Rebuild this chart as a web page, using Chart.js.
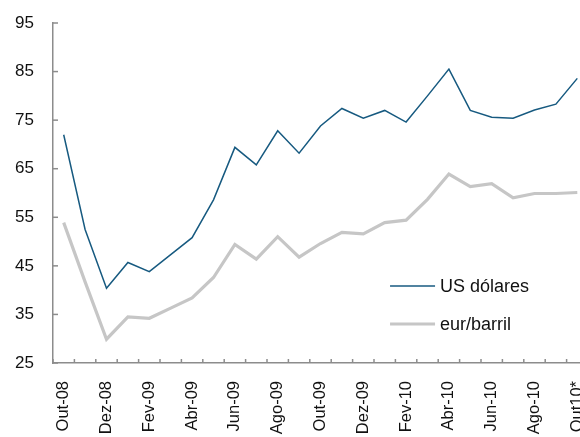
<!DOCTYPE html>
<html>
<head>
<meta charset="utf-8">
<script src="https://cdn.jsdelivr.net/npm/chart.js@4"></script>
<style>
  html, body { margin: 0; padding: 0; background: #fff; overflow: hidden; }
  #wrap { width: 580px; height: 437px; overflow: hidden; position: relative; }
</style>
</head>
<body>
<div id="wrap"><canvas id="grafico" width="588" height="437"></canvas></div>
<script>
// Preço do petróleo: US dólares vs eur/barril (mensal)
const meses = [
  'Out-08', 'Nov-08', 'Dez-08', 'Jan-09', 'Fev-09', 'Mar-09', 'Abr-09', 'Mai-09',
  'Jun-09', 'Jul-09', 'Ago-09', 'Set-09', 'Out-09', 'Nov-09', 'Dez-09', 'Jan-10',
  'Fev-10', 'Mar-10', 'Abr-10', 'Mai-10', 'Jun-10', 'Jul-10', 'Ago-10', 'Set-10', 'Out10*'
];
const usDolares = [
  72.0, 52.5, 40.4, 45.7, 43.8, 47.3, 50.8, 58.6, 69.4, 65.8, 72.8, 68.2, 73.8,
  77.4, 75.4, 77.0, 74.6, 80.0, 85.5, 77.0, 75.6, 75.4, 77.1, 78.3, 83.6
];
const eurBarril = [
  53.9, 41.7, 29.9, 34.5, 34.2, 36.3, 38.4, 42.6, 49.4, 46.4, 51.0, 46.8, 49.6,
  51.9, 51.6, 53.9, 54.4, 58.7, 63.9, 61.3, 61.9, 59.0, 59.9, 59.9, 60.1
];
const nomesSeries = ['US dólares', 'eur/barril'];
const yMin = 25, yMax = 95, yPasso = 10;

const corEixo = '#8c8c8c';
const fonte = 'Liberation Sans, Arial, sans-serif';

// tracinhos virados para dentro + legenda dentro da área do gráfico
const extras = {
  id: 'extras',
  afterDraw(chart) {
    const c = chart.ctx;
    const x = chart.scales.x, y = chart.scales.y;
    c.save();
    c.strokeStyle = corEixo;
    c.lineWidth = 1.5;
    // eixo y
    y.ticks.forEach(t => {
      const py = y.getPixelForValue(t.value);
      c.beginPath(); c.moveTo(x.left, py); c.lineTo(x.left + 5, py); c.stroke();
    });
    // eixo x (entre categorias)
    const passo = x.getPixelForValue(1) - x.getPixelForValue(0);
    for (let i = 0; i <= meses.length; i++) {
      const px = x.getPixelForValue(0) - passo / 2 + i * passo;
      c.beginPath(); c.moveTo(px, y.bottom); c.lineTo(px, y.bottom - 4); c.stroke();
    }
    // legenda
    const lx = x.getPixelForValue(15.25), ly = y.getPixelForValue(40.85);
    c.font = '18px ' + fonte;
    c.textBaseline = 'middle';
    chart.data.datasets.forEach((ds, i) => {
      const yy = ly + i * 38;
      c.strokeStyle = ds.borderColor;
      c.lineWidth = ds.borderWidth;
      c.beginPath(); c.moveTo(lx, yy); c.lineTo(lx + 45, yy); c.stroke();
      c.fillStyle = '#111';
      c.fillText(ds.label, lx + 50, yy + 1);
    });
    c.restore();
  }
};

new Chart(document.getElementById('grafico'), {
  type: 'line',
  data: {
    labels: meses,
    datasets: [
      {
        label: nomesSeries[0],
        data: usDolares,
        borderColor: '#175a80',
        borderWidth: 1.5,
        pointRadius: 0,
        tension: 0
      },
      {
        label: nomesSeries[1],
        data: eurBarril,
        borderColor: '#c6c6c6',
        borderWidth: 3.2,
        pointRadius: 0,
        tension: 0
      }
    ]
  },
  options: {
    responsive: false,
    animation: false,
    layout: { padding: { top: 23, left: 0, right: 0, bottom: 0 } },
    plugins: {
      legend: { display: false },
      tooltip: { enabled: false }
    },
    scales: {
      x: {
        offset: true,
        grid: { display: false, drawTicks: false },
        border: { display: true, color: corEixo, width: 1.5 },
        ticks: {
          autoSkip: false,
          minRotation: 90,
          maxRotation: 90,
          padding: 18,
          color: '#111',
          font: { family: fonte, size: 16.5 },
          callback: (v, i) => (i % 2 === 0 ? meses[i] : '')
        },
        afterFit: s => { s.height = 74; s.paddingLeft = 0; s.paddingRight = 0; }
      },
      y: {
        min: yMin,
        max: yMax,
        grid: { display: false, drawTicks: false },
        border: { display: true, color: corEixo, width: 1.5 },
        ticks: {
          stepSize: yPasso,
          padding: 19,
          color: '#111',
          font: { family: fonte, size: 17 }
        },
        afterFit: s => { s.width = 53; s.paddingTop = 0; s.paddingBottom = 0; }
      }
    }
  },
  plugins: [extras]
});
</script>
</body>
</html>
